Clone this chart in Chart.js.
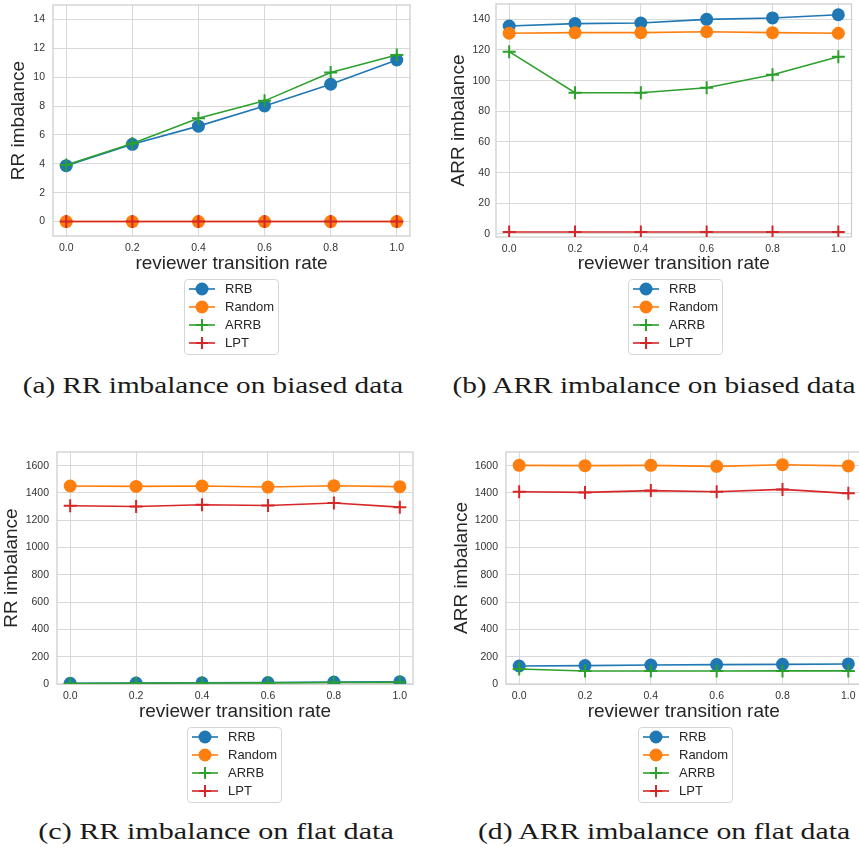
<!DOCTYPE html>
<html>
<head>
<meta charset="utf-8">
<script src="https://cdn.jsdelivr.net/npm/chart.js@4.4.1/dist/chart.umd.min.js"></script>
<style>
  body { margin: 0; width: 859px; height: 857px; overflow: hidden; background: #fff; position: relative; }
  .legend { position: absolute; box-sizing: border-box; border: 1px solid #d6d6d6; border-radius: 4px; background: #fff;
            font: 13px "Liberation Sans", Arial, sans-serif; color: #262626; }
  .legend .row { position: absolute; left: 0; height: 18px; width: 100%; }
  .legend canvas { position: absolute; left: 0; top: 0; }
  .legend span { position: absolute; left: 40px; top: 0; line-height: 18px; }
  .cap { position: absolute; white-space: nowrap; font: 23px "Liberation Serif", "DejaVu Serif", serif; color: #1a1a1a; }
</style>
</head>
<body>
<script>
// --- DATA ---
const xValues = [0.0, 0.2, 0.4, 0.6, 0.8, 1.0];
const xTickLabels = ['0.0', '0.2', '0.4', '0.6', '0.8', '1.0'];
const seriesNames = ['RRB', 'Random', 'ARRB', 'LPT'];

// (a) RR imbalance on biased data
const biasedRR_RRB    = [3.87, 5.35, 6.61, 8.01, 9.51, 11.19];
const biasedRR_Random = [0, 0, 0, 0, 0, 0];
const biasedRR_ARRB   = [3.91, 5.41, 7.16, 8.36, 10.32, 11.54];
const biasedRR_LPT    = [0, 0, 0, 0, 0, 0];
const biasedRR_yTicks = [0, 2, 4, 6, 8, 10, 12, 14];

// (b) ARR imbalance on biased data
const biasedARR_RRB    = [135.6, 137.2, 137.6, 140.0, 140.9, 143.0];
const biasedARR_Random = [130.9, 131.3, 131.3, 131.9, 131.3, 130.9];
const biasedARR_ARRB   = [118.9, 92.1, 92.1, 95.4, 103.9, 115.6];
const biasedARR_LPT    = [1.3, 1.3, 1.3, 1.3, 1.3, 1.3];
const biasedARR_yTicks = [0, 20, 40, 60, 80, 100, 120, 140];

// (c) RR imbalance on flat data
const flatRR_RRB    = [5, 7, 9, 11, 14, 16];
const flatRR_Random = [1451, 1448, 1451, 1443, 1453, 1446];
const flatRR_ARRB   = [4, 5.5, 7, 8.5, 10.5, 12];
const flatRR_LPT    = [1306, 1301, 1313, 1308, 1326, 1296];

// (d) ARR imbalance on flat data
const flatARR_RRB    = [132, 135, 139, 142, 144, 147];
const flatARR_Random = [1602, 1600, 1602, 1595, 1607, 1598];
const flatARR_ARRB   = [110, 95, 95, 95, 96, 96];
const flatARR_LPT    = [1409, 1404, 1417, 1409, 1426, 1397];

const flat_yTicks = [0, 200, 400, 600, 800, 1000, 1200, 1400, 1600];

// --- STYLE ---
const seriesColors = ['#1f77b4', '#ff7f0e', '#2ca02c', '#d62728'];
const markerStyles = ['circle', 'circle', 'cross', 'cross'];
const markerRadius = [6.5, 6.5, 6.5, 6.5];
const markerStroke = [0, 0, 2, 2];
const gridColor = '#d9d9d9';

Chart.defaults.font.family = '"Liberation Sans", Arial, sans-serif';
Chart.defaults.color = '#333';

const framePlugin = {
  id: 'frame',
  beforeDatasetsDraw(chart) {
    const { ctx, chartArea: a } = chart;
    ctx.save();
    ctx.strokeStyle = '#cfcfcf';
    ctx.lineWidth = 1.3;
    ctx.strokeRect(a.left, a.top, a.right - a.left, a.bottom - a.top);
    ctx.restore();
  }
};

function drawPanel(p) {
  const w = 440, h = 300;
  const canvas = document.createElement('canvas');
  canvas.width = w; canvas.height = h;
  canvas.style.cssText = `position:absolute;left:${p.cx}px;top:${p.cy}px;width:${w}px;height:${h}px`;
  document.body.appendChild(canvas);

  const half = 11.4; // half of 19px * 1.2 line height
  const padLeft = p.yTitleX - half - p.cx;
  const yW = p.L - p.cx - padLeft;
  const xH = p.xTitleY + half - p.B;

  new Chart(canvas, {
    type: 'line',
    data: {
      datasets: p.series.map((vals, i) => ({
        label: seriesNames[i],
        data: xValues.map((x, j) => ({ x: x, y: vals[j] })),
        borderColor: seriesColors[i],
        backgroundColor: seriesColors[i],
        borderWidth: 1.6,
        pointStyle: markerStyles[i],
        pointRadius: markerRadius[i],
        pointHoverRadius: markerRadius[i],
        pointBorderWidth: markerStroke[i],
        tension: 0,
        order: 4 - i
      }))
    },
    options: {
      responsive: false,
      animation: false,
      devicePixelRatio: 1,
      layout: { padding: { left: padLeft, top: p.T - p.cy, right: p.cx + w - p.R, bottom: p.cy + h - p.B - xH } },
      plugins: { legend: { display: false }, tooltip: { enabled: false } },
      scales: {
        x: {
          type: 'linear', min: -0.04, max: 1.04,
          afterBuildTicks: s => { s.ticks = xValues.map(v => ({ value: v })); },
          afterFit: s => { s.height = xH; },
          grid: { color: gridColor, drawTicks: false },
          border: { display: false },
          ticks: { padding: 6, font: { size: 10.5 }, color: '#333', callback: (v, i) => xTickLabels[i] },
          title: { display: true, text: 'reviewer transition rate', font: { size: 19 }, color: '#262626', padding: 0 }
        },
        y: {
          type: 'linear', min: p.yMin, max: p.yMax,
          afterBuildTicks: s => { s.ticks = p.yTicks.map(v => ({ value: v })); },
          afterFit: s => { s.width = yW; },
          grid: { color: gridColor, drawTicks: false },
          border: { display: false },
          ticks: { padding: p.tickPad, font: { size: 10.5 }, color: '#333', callback: v => String(v) },
          title: { display: true, text: p.yTitle, font: { size: 19 }, color: '#262626', padding: 0 }
        }
      }
    },
    plugins: [framePlugin]
  });
}

function drawLegend(left, top) {
  const box = document.createElement('div');
  box.className = 'legend';
  box.style.cssText = `left:${left}px;top:${top}px;width:95px;height:76px`;
  seriesNames.forEach((name, i) => {
    const row = document.createElement('div');
    row.className = 'row';
    row.style.top = (i * 18) + 'px';
    const c = document.createElement('canvas');
    c.width = 36; c.height = 18;
    const ctx = c.getContext('2d');
    ctx.strokeStyle = seriesColors[i];
    ctx.fillStyle = seriesColors[i];
    ctx.lineWidth = 1.6;
    ctx.beginPath(); ctx.moveTo(4, 9); ctx.lineTo(30, 9); ctx.stroke();
    if (markerStyles[i] === 'circle') {
      ctx.beginPath(); ctx.arc(17, 9, 6.5, 0, Math.PI * 2); ctx.fill();
    } else {
      ctx.lineWidth = 2;
      ctx.beginPath(); ctx.moveTo(11, 9); ctx.lineTo(23, 9); ctx.moveTo(17, 3); ctx.lineTo(17, 15); ctx.stroke();
    }
    const t = document.createElement('span');
    t.textContent = name;
    row.appendChild(c); row.appendChild(t);
    box.appendChild(row);
  });
  document.body.appendChild(box);
}

function drawCaption(text, cx, cy, targetW) {
  const el = document.createElement('div');
  el.className = 'cap';
  el.textContent = text;
  document.body.appendChild(el);
  const s = targetW / el.offsetWidth;
  el.style.left = cx + 'px';
  el.style.top = cy + 'px';
  el.style.transform = `translate(-50%, -50%) scaleX(${s.toFixed(3)})`;
}

drawPanel({ cx: -10, cy: -15, L: 53, T: 5, R: 410, B: 236, yTitleX: 19, xTitleY: 264, tickPad: 8,
  yMin: -1, yMax: 15, yTicks: biasedRR_yTicks, yTitle: 'RR imbalance',
  series: [biasedRR_RRB, biasedRR_Random, biasedRR_ARRB, biasedRR_LPT] });
drawPanel({ cx: 420, cy: -16, L: 496, T: 4, R: 853, B: 237, yTitleX: 459, xTitleY: 264, tickPad: 6,
  yMin: -2, yMax: 150, yTicks: biasedARR_yTicks, yTitle: 'ARR imbalance',
  series: [biasedARR_RRB, biasedARR_Random, biasedARR_ARRB, biasedARR_LPT] });
drawPanel({ cx: -10, cy: 432, L: 57, T: 452, R: 413, B: 684, yTitleX: 12, xTitleY: 712, tickPad: 8,
  yMin: 0, yMax: 1700, yTicks: flat_yTicks, yTitle: 'RR imbalance',
  series: [flatRR_RRB, flatRR_Random, flatRR_ARRB, flatRR_LPT] });
drawPanel({ cx: 430, cy: 432, L: 506, T: 452, R: 863, B: 684, yTitleX: 462, xTitleY: 712, tickPad: 8,
  yMin: 0, yMax: 1700, yTicks: flat_yTicks, yTitle: 'ARR imbalance',
  series: [flatARR_RRB, flatARR_Random, flatARR_ARRB, flatARR_LPT] });

drawLegend(184, 279);
drawLegend(628, 279);
drawLegend(187, 727);
drawLegend(638, 727);

drawCaption('(a) RR imbalance on biased data', 212.5, 386, 381);
drawCaption('(b) ARR imbalance on biased data', 653.5, 386, 403);
drawCaption('(c) RR imbalance on flat data', 215.5, 832, 355);
drawCaption('(d) ARR imbalance on flat data', 664, 832, 372);
</script>
</body>
</html>
